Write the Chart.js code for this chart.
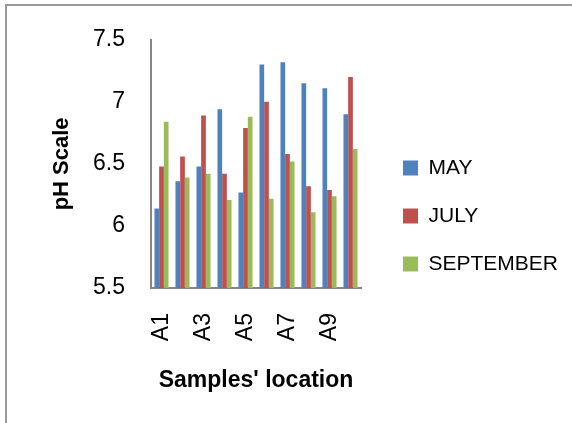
<!DOCTYPE html>
<html><head><meta charset="utf-8">
<script src="https://cdn.jsdelivr.net/npm/chart.js@4"></script>
<style>
html,body{margin:0;padding:0;background:#fff;}
#wrap{position:relative;width:572px;height:423px;overflow:hidden;background:#fff;}
#frame{position:absolute;left:5px;top:4px;width:600px;height:500px;border-top:2px solid #9a9a9a;border-left:2px solid #9a9a9a;}
canvas{position:absolute;left:0;top:0;}
</style></head><body>
<div id="wrap"><div id="frame"></div><canvas id="c" width="572" height="423"></canvas></div>
<script>
const categories = ['A1','A2','A3','A4','A5','A6','A7','A8','A9','A10'];
const seriesNames = ['MAY','JULY','SEPTEMBER'];
const mayValues = [6.14,6.36,6.48,6.94,6.27,7.30,7.32,7.15,7.11,6.90];
const julyValues = [6.48,6.56,6.89,6.42,6.79,7.00,6.58,6.32,6.29,7.20];
const septemberValues = [6.84,6.39,6.42,6.21,6.88,6.22,6.52,6.11,6.24,6.62];
const yMin = 5.5, yMax = 7.5, yStep = 0.5;

Chart.defaults.font.family = "'Liberation Sans', Arial, sans-serif";
Chart.defaults.color = '#000';

new Chart(document.getElementById('c'), {
  type: 'bar',
  data: {
    labels: categories,
    datasets: [
      {label: seriesNames[0], data: mayValues, backgroundColor: '#4F81BD', yAxisID: 'y'},
      {label: seriesNames[1], data: julyValues, backgroundColor: '#C0504D', yAxisID: 'y'},
      {label: seriesNames[2], data: septemberValues, backgroundColor: '#9BBB59', yAxisID: 'y'}
    ]
  },
  options: {
    responsive: false,
    animation: false,
    devicePixelRatio: 1,
    layout: {padding: {top: 35, left: 0, right: 6, bottom: 26}},
    datasets: {bar: {categoryPercentage: 0.67, barPercentage: 1}},
    plugins: {
      legend: {
        position: 'right', align: 'center', maxWidth: 190,
        labels: {boxWidth: 15, boxHeight: 15, padding: 27, font: {size: 21}, color: '#000'}
      },
      tooltip: {enabled: false}
    },
    scales: {
      x: {
        grid: {display: false, drawTicks: false},
        border: {display: true, color: '#868686', width: 2},
        ticks: {
          autoSkip: false, maxRotation: 90, minRotation: 90, padding: 25,
          font: {size: 23},
          callback: function(v, i) { return i % 2 === 0 ? categories[i] : ''; }
        },
        title: {display: true, text: "Samples' location", font: {size: 23, weight: 'bold'}, padding: {top: 3, bottom: 3}},
        afterFit: s => { s.height = 423 - 26 - 288; }
      },
      y: {
        min: yMin, max: yMax,
        ticks: {stepSize: yStep, padding: 26, font: {size: 23}, callback: v => String(v)},
        grid: {display: false, drawTicks: false},
        border: {display: true, color: '#868686', width: 2},
        title: {display: true, text: 'pH Scale', font: {size: 22, weight: 'bold'}, padding: {top: 49, bottom: 49}},
        afterFit: s => { s.width = 151; }
      },
      y2: {
        position: 'right', display: true,
        grid: {display: false, drawTicks: false},
        border: {display: false},
        ticks: {display: false},
        afterFit: s => { s.width = 15; }
      }
    }
  }
});
</script>
</body></html>
